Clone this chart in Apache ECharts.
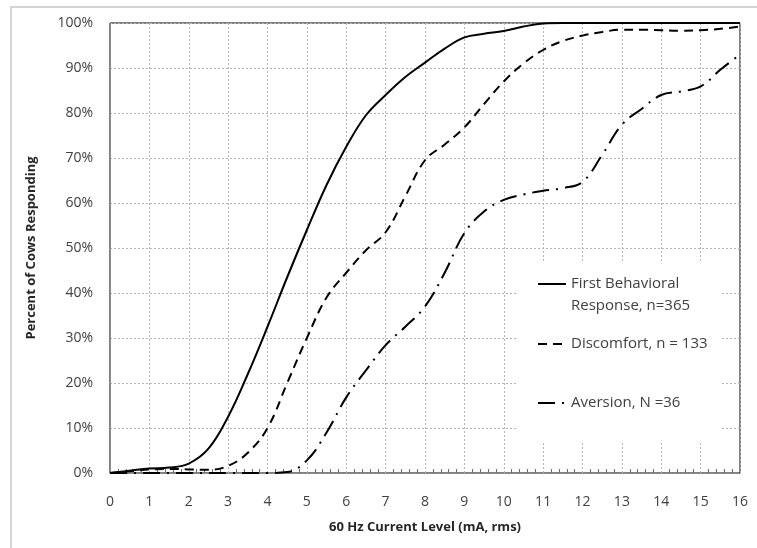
<!DOCTYPE html>
<html>
<head>
<meta charset="utf-8">
<script src="https://cdn.jsdelivr.net/npm/echarts@6/dist/echarts.min.js"></script>
<style>html,body{margin:0;padding:0;background:#fff}#c{width:757px;height:548px}</style>
</head>
<body>
<div id="c"></div>
<script>
var currentLevels = [0,0.5,1,1.5,2,2.5,3,3.5,4,4.5,5,5.5,6,6.5,7,7.5,8,8.5,9,9.5,10,10.5,11,11.5,12,12.5,13,13.5,14,14.5,15,15.5,16];
var firstResponse = [0,0.5,1.0,1.2,2.1,5.4,12.5,22,32.5,43.5,54,64,72.5,79.5,84,88,91.2,94.3,96.8,97.6,98.2,99.2,99.9,100,100,100,100,100,100,100,100,100,100];
var discomfort = [0,0.4,0.8,0.9,0.8,0.7,1.6,4.5,10,20,30,39,44.5,49.5,53.5,61.5,69.5,73,76.8,82,87,91,94,96,97.2,98,98.5,98.5,98.4,98.3,98.4,98.7,99.2];
var aversion = [0,0,0,0,0,0,0,0,0,0.2,2.8,9,16.8,22.8,28.4,32.5,37,44.5,53.3,58.1,60.7,61.9,62.7,63.3,64.7,70.7,77.4,80.9,84,84.8,85.9,89.6,93];
var seriesNames = ['First Behavioral\nResponse, n=365', 'Discomfort, n = 133', 'Aversion, N =36'];
var xTitle = '60 Hz Current Level (mA, rms)';
var yTitle = 'Percent of Cows Responding';

function pairs(ys){ return currentLevels.map(function(x,i){ return [x, ys[i]]; }); }

var FONT = 'Open Sans';
var chart = echarts.init(document.getElementById('c'), null, {renderer:'canvas'});
var legendText = {fontFamily: FONT, fontSize: 15, color: '#404040', lineHeight: 22};
var legendBase = {orient: 'vertical', left: 537, padding: 0, itemWidth: 28, itemHeight: 10, itemGap: 4,
  itemStyle: {opacity: 0, borderWidth: 0}, selectedMode: false};
chart.setOption({
  animation: false,
  grid: {left: 110, right: 17, top: 23, bottom: 75, show: true, borderColor: '#000', borderWidth: 1, backgroundColor: 'transparent'},
  graphic: [
    {type: 'rect', shape: {x: 11, y: 7, width: 800, height: 600}, style: {fill: 'none', stroke: '#d4d4d4', lineWidth: 2}, z: -10, silent: true},
    {type: 'rect', shape: {x: 518, y: 263, width: 203, height: 179}, style: {fill: '#fff'}, z: 1, silent: true}
  ],
  xAxis: {
    type: 'value', min: 0, max: 16, interval: 1,
    name: xTitle, nameLocation: 'middle', nameGap: 48,
    nameTextStyle: {fontFamily: FONT, fontSize: 13, fontWeight: 'bold', color: '#262626'},
    axisLine: {show: true, lineStyle: {color: '#8c8c8c', width: 1}},
    axisTick: {show: false, inside: true},
    minorTick: {show: true, splitNumber: 5, length: 4, lineStyle: {color: '#6e6e6e'}},
    axisLabel: {fontFamily: FONT, fontSize: 14, color: '#404040', margin: 22},
    splitLine: {show: true, lineStyle: {color: '#b4b4b4', type: [2,2], width: 1}}
  },
  yAxis: {
    type: 'value', min: 0, max: 100, interval: 10,
    name: yTitle, nameLocation: 'middle', nameGap: 72, nameRotate: 90,
    nameTextStyle: {fontFamily: FONT, fontSize: 13, fontWeight: 'bold', color: '#262626'},
    axisLine: {show: true, lineStyle: {color: '#8c8c8c', width: 1}},
    axisTick: {show: false},
    axisLabel: {fontFamily: FONT, fontSize: 14, color: '#404040', margin: 17, formatter: '{value}%'},
    splitLine: {show: true, lineStyle: {color: '#b4b4b4', type: [2,2], width: 1}}
  },
  legend: [
    Object.assign({}, legendBase, {data: [seriesNames[0]], top: 251, textStyle: legendText,
      formatter: function(name){ return ' \n' + name; }}),
    Object.assign({}, legendBase, {data: [seriesNames[1]], top: 333, textStyle: legendText}),
    Object.assign({}, legendBase, {data: [seriesNames[2]], top: 392, textStyle: legendText})
  ],
  series: [
    {name: seriesNames[0], type: 'line', data: pairs(firstResponse), smooth: 0.4, showSymbol: false, symbol: 'none',
      lineStyle: {color: '#000', width: 2, type: 'solid'}, itemStyle: {color: '#000'}, z: 3},
    {name: seriesNames[1], type: 'line', data: pairs(discomfort), smooth: 0.4, showSymbol: false, symbol: 'none',
      lineStyle: {color: '#000', width: 2, type: [9,6]}, itemStyle: {color: '#000'}, z: 3},
    {name: seriesNames[2], type: 'line', data: pairs(aversion), smooth: 0.4, showSymbol: false, symbol: 'none',
      lineStyle: {color: '#000', width: 2, type: [17,7,2,7]}, itemStyle: {color: '#000'}, z: 3}
  ]
});
</script>
</body>
</html>
